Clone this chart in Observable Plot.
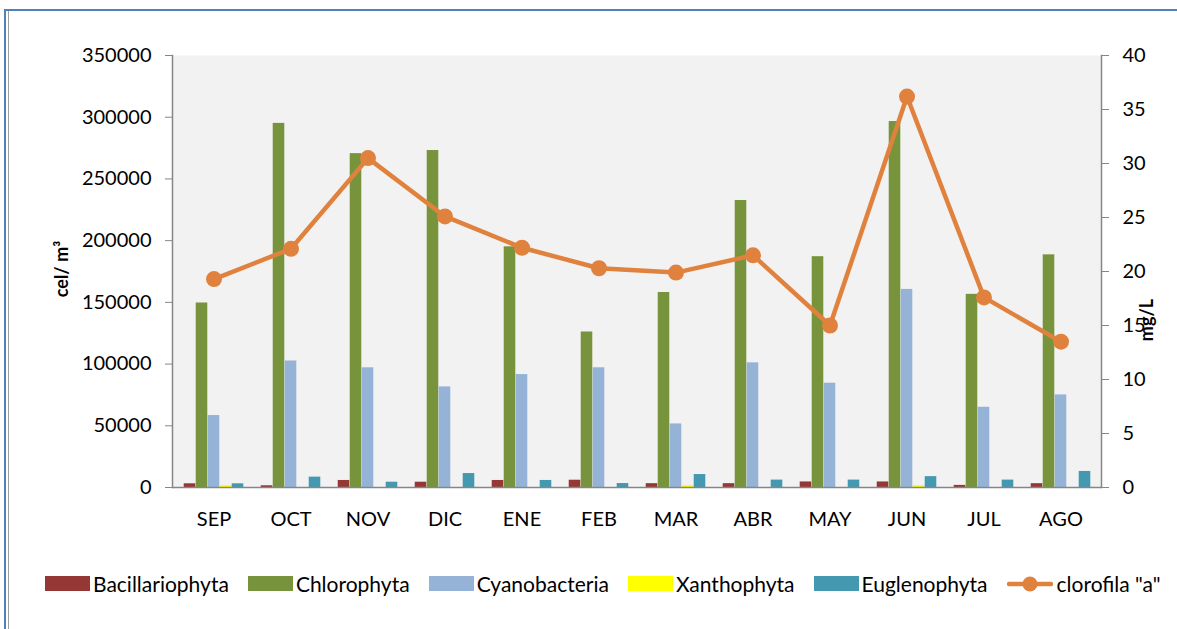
<!DOCTYPE html>
<html>
<head>
<meta charset="utf-8">
<script src="https://cdn.jsdelivr.net/npm/d3@7"></script>
<script src="https://cdn.jsdelivr.net/npm/@observablehq/plot@0.6"></script>
<style>
  html, body { margin: 0; padding: 0; background: #fff; }
  body { width: 1177px; height: 629px; position: relative; overflow: hidden; font-family: Lato, "Open Sans", sans-serif; }
  #frameL { position: absolute; left: 4px; top: 9px; width: 2px; height: 640px; background: #4f81bd; }
  #frameL2 { position: absolute; left: 8px; top: 11px; width: 1px; height: 640px; background: #a0a0a0; }
  #frameT { position: absolute; left: 4px; top: 9px; width: 1200px; height: 2px; background: #4f81bd; }
  #chart { position: absolute; left: 0; top: 0; }
  .ytitle { position: absolute; font-weight: bold; font-size: 18px; color: #000; white-space: nowrap; transform: translate(-50%, -50%) rotate(-90deg); }
  #legend { position: absolute; left: 45px; top: 571px; width: 1200px; display: flex; flex-wrap: nowrap; align-items: center; font-size: 21px; color: #000; white-space: nowrap; }
  .item { display: flex; align-items: center; margin-right: 19px; flex: none; }
  .sw { width: 45px; height: 15px; margin-right: 3px; }
</style>
</head>
<body>
<div id="frameT"></div>
<div id="frameL"></div>
<div id="frameL2"></div>
<div id="chart"></div>
<div class="ytitle" style="left:61px; top:269px;">cel/ m³</div>
<div class="ytitle" style="left:1146px; top:320px;">mg/L</div>
<div id="legend"></div>
<script>
const months = ["SEP","OCT","NOV","DIC","ENE","FEB","MAR","ABR","MAY","JUN","JUL","AGO"];
const seriesNames = ["Bacillariophyta","Chlorophyta","Cyanobacteria","Xanthophyta","Euglenophyta"];
const seriesColors = ["#953735","#77933c","#95b3d7","#ffff00","#4499b1"];
const bacillariophyta = [3000,1400,5700,4300,5700,5900,3100,3100,4500,4500,1700,3100];
const chlorophyta = [149500,295000,270500,273000,195000,126000,158000,232500,187000,296500,156500,188500];
const cyanobacteria = [58300,102500,97000,81500,91500,97000,51500,101000,84500,160500,65000,75000];
const xanthophyta = [1500,0,0,0,0,0,1600,0,0,1600,0,0];
const euglenophyta = [3000,8400,4300,11300,5700,3200,10500,6000,6000,8800,6000,13000];
const clorofila = [19.3,22.1,30.5,25.1,22.2,20.3,19.9,21.5,15.0,36.2,17.6,13.5];
const lineName = 'clorofila "a"';
const lineColor = "#e0823d";
const leftTicks = [0,50000,100000,150000,200000,250000,300000,350000];
const rightTicks = [0,5,10,15,20,25,30,35,40];

const seriesValues = [bacillariophyta, chlorophyta, cyanobacteria, xanthophyta, euglenophyta];
const k = 350000 / 40;

const W = 1177, H = 540, mL = 172, mR = 76, mT = 55, mB = 53;
const bw = (W - mL - mR) / months.length;
const barW = bw * 0.155;
const pad = (bw - barW * seriesNames.length) / 2;

const barMarks = seriesNames.map((name, i) => {
  const data = months.map((m, j) => ({month: m, series: name, value: seriesValues[i][j]}));
  return Plot.barY(data, {
    x: "month", y: "value", fill: seriesColors[i],
    insetLeft: pad + i * barW,
    insetRight: bw - pad - (i + 1) * barW
  });
});
const lineData = months.map((m, j) => ({month: m, v: clorofila[j]}));

const chart = Plot.plot({
  width: W, height: H,
  marginLeft: mL, marginRight: mR, marginTop: mT, marginBottom: mB,
  style: {fontFamily: "Lato, 'Open Sans', sans-serif", fontSize: "20px", color: "#000", background: "transparent"},
  x: {type: "band", domain: months, padding: 0, axis: null},
  y: {domain: [0, 350000], axis: null},
  marks: [
    Plot.frame({fill: "#f2f2f2", stroke: null}),
    Plot.frame({anchor: "left", stroke: "#868686", strokeWidth: 1.5}),
    Plot.frame({anchor: "right", stroke: "#868686", strokeWidth: 1.5}),
    Plot.axisY({anchor: "left", label: null, ticks: leftTicks, tickSize: 7, tickPadding: 14, stroke: "#868686", tickFormat: d => String(d), fontSize: 20}),
    Plot.axisY({anchor: "right", label: null, ticks: rightTicks.map(t => t * k), tickSize: 7, tickPadding: 14, stroke: "#868686", tickFormat: d => String(Math.round(d / k)), fontSize: 20}),
    Plot.axisX({anchor: "bottom", label: null, tickSize: 0, tickPadding: 24, fontSize: 20}),
    ...barMarks,
    Plot.ruleY([0], {stroke: "#868686", strokeWidth: 1.5}),
    Plot.line(lineData, {x: "month", y: d => d.v * k, stroke: lineColor, strokeWidth: 4.5}),
    Plot.dot(lineData, {x: "month", y: d => d.v * k, fill: lineColor, r: 8, stroke: null})
  ]
});
document.getElementById("chart").appendChild(chart);

const legend = document.getElementById("legend");
seriesNames.forEach((name, i) => {
  const it = document.createElement("div");
  it.className = "item";
  it.innerHTML = `<div class="sw" style="background:${seriesColors[i]}"></div><span>${name}</span>`;
  legend.appendChild(it);
});
const li = document.createElement("div");
li.className = "item";
li.innerHTML = `<svg width="46" height="20" style="margin-right:4px"><line x1="2" y1="10" x2="44" y2="10" stroke="${lineColor}" stroke-width="4.5" stroke-linecap="round"/><circle cx="23" cy="10" r="7.5" fill="${lineColor}"/></svg><span>${lineName}</span>`;
legend.appendChild(li);
</script>
</body>
</html>
